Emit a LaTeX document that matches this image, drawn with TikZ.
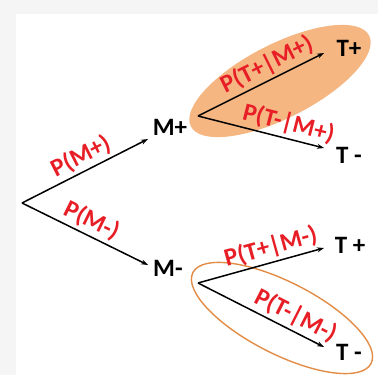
\documentclass[tikz,border=0pt]{standalone}
\usepackage{fontspec}
\setmainfont{Carlito}
\usetikzlibrary{
  arrows.meta, % For arrow tips
  positioning
}
\definecolor{labred}{RGB}{232,30,38}
\definecolor{peach}{RGB}{245,182,130}
\definecolor{ringorange}{RGB}{226,140,70}

\begin{document}
\begin{tikzpicture}[
      x=1pt, y=1pt,
      >={Stealth[length=7pt,width=5pt]}, % Default arrow tip
      branch/.style={black, line width=1.5pt, ->}, % Style for tree branches
      plab/.style={labred, font=\fontsize{25}{27}\bfseries\selectfont, sloped, above, inner sep=3pt}, % Probability labels
      outcome/.style={black, font=\fontsize{25}{27}\bfseries\selectfont, inner sep=0pt}, % Outcome labels
    ]

    % Frame
    \useasboundingbox (0,0) rectangle (378,375);
    \fill[gray!8] (0,0) rectangle (378,375);
    \fill[white] (16,0) rectangle (378,361);

    % Highlight of M+ -> T+ (filled) and M- -> T- (ring)
    \fill[peach] (280,294) ellipse [x radius=100, y radius=37, rotate=27];
    \draw[ringorange, line width=1.4pt] (282,57) ellipse [x radius=100, y radius=36, rotate=-27];

    % Root and first stage
    \coordinate (root) at (22,172);
    \node[outcome] (mp) at (170,248) {M+};
    \node[outcome] (mm) at (168,107) {M-};
    \coordinate (mpIn) at (148,236);
    \coordinate (mmIn) at (148,110);
    \draw[branch] (root) -- node[plab, pos=0.52] {P(M+)} (mpIn);
    \draw[branch] (root) -- node[plab, pos=0.5] {P(M-)} (mmIn);

    % Second stage after M+
    \coordinate (mpOut) at (198,259);
    \node[outcome] (tpa) at (349,327) {T+};
    \node[outcome] (tma) at (349,220) {T -};
    \coordinate (tpaIn) at (324,322);
    \coordinate (tmaIn) at (324,227);
    \draw[branch] (mpOut) -- node[plab, pos=0.6] {P(T+|M+)} (tpaIn);
    \draw[branch] (mpOut) -- node[plab, pos=0.69] {P(T-|M+)} (tmaIn);

    % Second stage after M-
    \coordinate (mmOut) at (198,92);
    \node[outcome] (tpb) at (350,130) {T +};
    \node[outcome] (tmb) at (349,23) {T -};
    \coordinate (tpbIn) at (324,127);
    \coordinate (tmbIn) at (324,28);
    \draw[branch] (mmOut) -- node[plab, pos=0.61] {P(T+|M-)} (tpbIn);
    \draw[branch] (mmOut) -- node[plab, pos=0.72] {P(T-|M-)} (tmbIn);

  \end{tikzpicture}
\end{document}
